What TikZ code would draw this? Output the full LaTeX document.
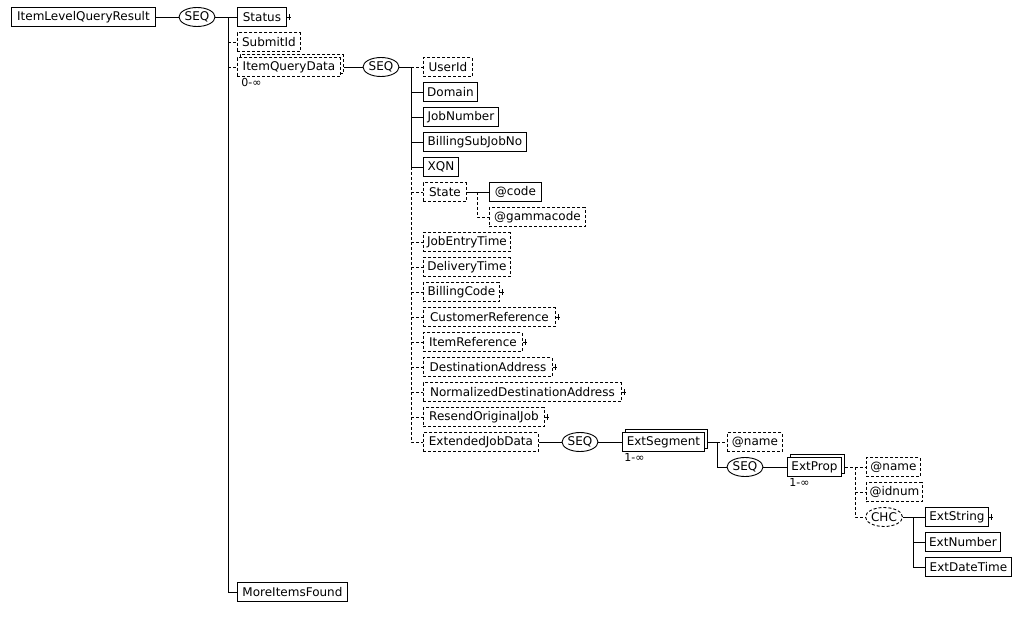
\documentclass[tikz,border=0pt]{standalone}
\usepackage{fontspec}
\setmainfont{DejaVu Sans}
\usetikzlibrary{shapes.geometric,shadows}
\newcommand\El[6][]{\node[el,#1,anchor=west,minimum width={#4-#3}] (#2) at (#3,#5) {#6};}
\newcommand\Pl[1]{\draw (#1.east) -- ++(4,0); \draw ([xshift=2.5pt,yshift=3pt]#1.east) -- ++(0,6);}
\begin{document}
\begin{tikzpicture}[x=1pt,y=-1pt,line width=0.9pt,
  dsh/.style={dash pattern=on 3pt off 2pt},
  el/.style={draw,rectangle,minimum height=19pt,inner sep=0pt,fill=white,font=\fontsize{12}{14}\selectfont},
  opt/.style={dsh},
  rep/.style={copy shadow={shadow xshift=3pt,shadow yshift=3pt,fill=white,draw=black}},
  optrep/.style={copy shadow={shadow xshift=3pt,shadow yshift=3pt,fill=white,draw=black,dsh}},
  cmp/.style={draw,ellipse,minimum width=36pt,minimum height=19pt,inner sep=0pt,fill=white,font=\fontsize{12}{14}\selectfont},
  mult/.style={anchor=west,inner sep=0pt,font=\fontsize{11}{13}\selectfont}]
\useasboundingbox (0,0) rectangle (1023,624);
% level 0/1
\El{root}{11}{155}{17}{ItemLevelQueryResult}
\node[cmp] (s1) at (197,17) {SEQ};
\coordinate (t1) at (228,17);
\El{status}{237}{286}{17}{Status}
\El[opt]{submit}{237}{300}{42}{SubmitId}
\El[opt,optrep]{iqd}{237}{340}{67}{ItemQueryData}
\node[mult] (m1) at (241,82) {0-∞};
\El{more}{237}{347}{592}{MoreItemsFound}
\draw (root.east) -- (s1.west);
\draw (s1.east) -- (status.west);
\draw (t1) -- (t1 |- more.west) -- (more.west);
\draw[dsh] (t1 |- submit.west) -- (submit.west);
\draw[dsh] (t1 |- iqd.west) -- (iqd.west);
\Pl{status}
% ItemQueryData
\node[cmp] (s2) at (381,67) {SEQ};
\draw ([xshift=3pt]iqd.east) -- (s2.west);
\coordinate (t2) at (411,67);
\El[opt]{userid}{423}{472}{67}{UserId}
\El{domain}{423}{477}{92}{Domain}
\El{jobnum}{423}{498}{117}{JobNumber}
\El{billsub}{423}{526}{142}{BillingSubJobNo}
\El{xqn}{423}{458}{167}{XQN}
\El[opt]{state}{423}{466}{192}{State}
\El{code}{489}{541}{192}{@code}
\El[opt]{gamma}{489}{585}{217}{@gammacode}
\El[opt]{jobentry}{423}{510}{242}{JobEntryTime}
\El[opt]{delivery}{423}{510}{267}{DeliveryTime}
\El[opt]{billcode}{423}{499}{292}{BillingCode}
\El[opt]{custref}{423}{555}{317}{CustomerReference}
\El[opt]{itemref}{423}{522}{342}{ItemReference}
\El[opt]{destaddr}{423}{552}{367}{DestinationAddress}
\El[opt]{normdest}{423}{621}{392}{NormalizedDestinationAddress}
\El[opt]{resend}{423}{544}{417}{ResendOriginalJob}
\El[opt]{extjob}{423}{538}{442}{ExtendedJobData}
\draw (s2.east) -- (t2);
\draw[dsh] (t2) -- (userid.west);
\draw (t2) -- (t2 |- xqn.west) -- (xqn.west);
\draw (t2 |- domain.west) -- (domain.west);
\draw (t2 |- jobnum.west) -- (jobnum.west);
\draw (t2 |- billsub.west) -- (billsub.west);
\draw[dsh] (t2 |- xqn.west) -- (t2 |- extjob.west) -- (extjob.west);
\foreach \n in {state,jobentry,delivery,billcode,custref,itemref,destaddr,normdest,resend}
  {\draw[dsh] (t2 |- \n.west) -- (\n.west);}
\foreach \n in {billcode,custref,itemref,destaddr,normdest,resend} {\Pl{\n}}
% State
\coordinate (ts) at (477,192);
\draw (state.east) -- (code.west);
\draw[dsh] (ts) -- (ts |- gamma.west) -- (gamma.west);
% ExtendedJobData
\node[cmp] (s3) at (580,442) {SEQ};
\El[rep]{extseg}{622}{704}{442}{ExtSegment}
\node[mult] (m2) at (624,457) {1-∞};
\draw (extjob.east) -- (s3.west);
\draw (s3.east) -- (extseg.west);
\coordinate (te) at (717,442);
\El[opt]{name1}{727}{782}{442}{@name}
\node[cmp] (s4) at (745,467) {SEQ};
\draw ([xshift=3pt]extseg.east) -- (te);
\draw[dsh] (te) -- (name1.west);
\draw (te) -- (te |- s4.west) -- (s4.west);
% ExtProp
\El[rep]{extprop}{787}{841}{467}{ExtProp}
\node[mult] (m3) at (789,482) {1-∞};
\draw (s4.east) -- (extprop.west);
\coordinate (tp) at (855,467);
\El[opt]{name2}{866}{920}{467}{@name}
\El[opt]{idnum}{866}{922}{492}{@idnum}
\node[cmp,dsh,minimum width=37pt] (chc) at (884,517) {CHC};
\draw[dsh] ([xshift=3pt]extprop.east) -- (name2.west);
\draw[dsh] (tp) -- (tp |- chc.west) -- (chc.west);
\draw[dsh] (tp |- idnum.west) -- (idnum.west);
% CHC
\coordinate (tc) at (913,517);
\El{extstr}{925}{988}{517}{ExtString}
\El{extnum}{925}{1000}{542}{ExtNumber}
\El{extdt}{925}{1011}{567}{ExtDateTime}
\draw (chc.east) -- (extstr.west);
\draw (tc) -- (tc |- extdt.west) -- (extdt.west);
\draw (tc |- extnum.west) -- (extnum.west);
\Pl{extstr}
\end{tikzpicture}
\end{document}
